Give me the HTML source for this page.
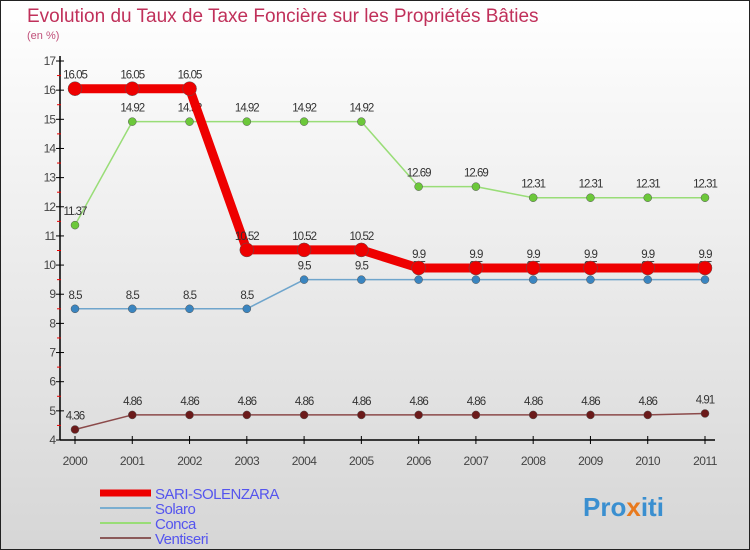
<!DOCTYPE html>
<html><head><meta charset="utf-8"><style>
body{margin:0}
svg{display:block;font-family:"Liberation Sans",sans-serif}
</style></head><body>
<svg id="c" width="750" height="550">
<defs><linearGradient id="bg" x1="0" y1="0" x2="0" y2="1"><stop offset="0" stop-color="#ffffff"/><stop offset="1" stop-color="#d6d6d6"/></linearGradient></defs>
<rect x="0.5" y="0.5" width="749" height="549" fill="url(#bg)" stroke="#222"/>
<text x="27" y="22" font-size="19" fill="#c0305a">Evolution du Taux de Taxe Foncière sur les Propriétés Bâties</text>
<text x="27" y="39" font-size="11" fill="#c0507a">(en %)</text>
<g id="axes"></g><g id="series"></g><g id="legend"></g>
<text x="583" y="516" font-size="26" font-weight="bold" fill="#3a8fd0">Pro<tspan fill="#e87a1e">x</tspan>iti</text>
</svg>
<script>
const years=[2000,2001,2002,2003,2004,2005,2006,2007,2008,2009,2010,2011];
const sari=[16.05,16.05,16.05,10.52,10.52,10.52,9.9,9.9,9.9,9.9,9.9,9.9];
const solaro=[8.5,8.5,8.5,8.5,9.5,9.5,9.5,9.5,9.5,9.5,9.5,9.5];
const conca=[11.37,14.92,14.92,14.92,14.92,14.92,12.69,12.69,12.31,12.31,12.31,12.31];
const ventiseri=[4.36,4.86,4.86,4.86,4.86,4.86,4.86,4.86,4.86,4.86,4.86,4.91];
const yTicks=[4,5,6,7,8,9,10,11,12,13,14,15,16,17];
const NS="http://www.w3.org/2000/svg";
const x=i=>75+i*(630/(years.length-1));
const y=v=>440-(v-4)*(379/13);
function mk(t,a,p){const e=document.createElementNS(NS,t);for(const k in a)e.setAttribute(k,a[k]);p.appendChild(e);return e;}
const ax=document.getElementById('axes');
let l=mk('line',{x1:60,y1:y(17)-5,x2:60,y2:440,stroke:'#000','stroke-width':1.5},ax);


l=mk('line',{x1:60,y1:440,x2:715,y2:440,stroke:'#000','stroke-width':1.5},ax);


yTicks.forEach(v=>{
 mk('line',{x1:56,y1:y(v),x2:64,y2:y(v),stroke:'#000'},ax);
 if(v<17)mk('line',{x1:57,y1:y(v+0.5),x2:61,y2:y(v+0.5),stroke:'#e00'},ax);
 const t=mk('text',{x:55,y:y(v)+4,'font-size':12,'text-anchor':'end',fill:'#444','letter-spacing':'-1'},ax);t.textContent=v;
 
 
});
years.forEach((yr,i)=>{
 mk('line',{x1:x(i),y1:436,x2:x(i),y2:444,stroke:'#000'},ax);
 const t=mk('text',{x:x(i),y:465,'font-size':12,'text-anchor':'middle',fill:'#444','letter-spacing':'-0.5'},ax);t.textContent=yr;
 
 
});
const sg=document.getElementById('series');
function series(name,data,color,w,r,dot){
 const g=mk('g',{},sg);
 
 
 const p=mk('polyline',{points:data.map((v,i)=>x(i)+','+y(v)).join(' '),fill:'none',stroke:color,'stroke-width':w,'stroke-linejoin':'round'},g);
 
 
 data.forEach((v,i)=>{
  const c=mk('circle',{cx:x(i),cy:y(v),r:r,fill:dot,stroke:'#555','stroke-width':0.5},g);
  
  
  const t=mk('text',{x:x(i),y:y(v)-10,'font-size':11.5,'text-anchor':'middle',fill:'#333','letter-spacing':'-1'},g);t.textContent=v;
  
  
 });
}
series('ventiseri',ventiseri,'#8b4a4a',1.5,4,'#6b1a1a');
series('conca',conca,'#99dd77',1.5,4,'#6cc83a');
series('solaro',solaro,'#6fa5cc',1.5,4,'#3a85c0');
series('sari-solenzara',sari,'#ee0000',9,7,'#ee0000');
const lg=document.getElementById('legend');
const leg=[['SARI-SOLENZARA','#ee0000',7],['Solaro','#7aaed0',2],['Conca','#99dd77',2],['Ventiseri','#8b5a5a',2]];
leg.forEach((e,i)=>{
 const yy=493+i*15;
 const g=mk('g',{},lg);
 
 
 mk('line',{x1:100,y1:yy,x2:151,y2:yy,stroke:e[1],'stroke-width':e[2]},g);
 const t=mk('text',{x:155,y:yy+6,'font-size':15,fill:'#5555ee','letter-spacing':'-0.5'},g);t.textContent=e[0];
});
</script>
</body></html>
